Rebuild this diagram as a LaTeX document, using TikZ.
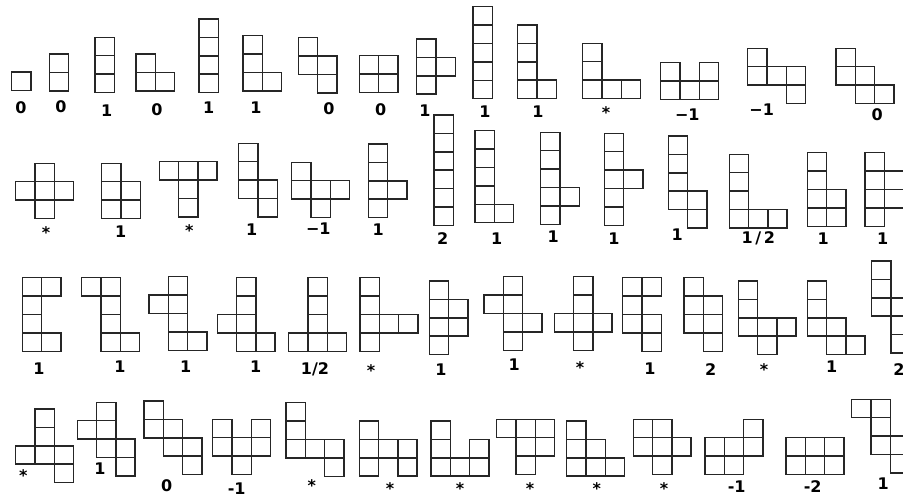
\documentclass[tikz,border=0pt]{standalone}
\usepackage{fontspec}
\setmainfont{DejaVu Sans}
\def\cw{19.3}
\def\ch{18.4}
\newcommand\poly[3]{\foreach \c/\r in {#3}{\draw[cell] ({#1+\c*\cw},{#2+\r*\ch}) rectangle ++(\cw,\ch);}}
\newcommand\st{\raisebox{-5pt}{*}}
\tikzset{
  cell/.style={line width=1.5pt, draw=black!85},
  lab/.style={font=\bfseries\fontsize{16}{16}\selectfont, inner sep=0pt, text=black},
  star/.style={lab, yshift=-1pt}
}
\begin{document}
\begin{tikzpicture}[x=1pt,y=-1pt]
\useasboundingbox (0,0) rectangle (903,497);
% ---------------- row 1
\poly{11.7}{72}{0/0}
\node[lab] (l1) at (21,108) {0};
\poly{49.3}{54}{0/0,0/1}
\node[lab] (l2) at (61,107) {0};
\poly{95}{37.3}{0/0,0/1,0/2}
\node[lab] (l3) at (106.7,111) {1};
\poly{136}{54}{0/0,0/1,1/1}
\node[lab] (l4) at (157,110) {0};
\poly{199}{19}{0/0,0/1,0/2,0/3}
\node[lab] (l5) at (208.7,108) {1};
\poly{243}{35.7}{0/0,0/1,0/2,1/2}
\node[lab] (l6) at (256,108) {1};
\poly{298.3}{37.7}{0/0,0/1,1/1,1/2}
\node[lab] (l7) at (329,109) {0};
\poly{359.3}{55.7}{0/0,1/0,0/1,1/1}
\node[lab] (l8) at (380.7,110) {0};
\poly{416.7}{39}{0/0,0/1,1/1,0/2}
\node[lab] (l9) at (425,110.7) {1};
\poly{473}{6.7}{0/0,0/1,0/2,0/3,0/4}
\node[lab] (l10) at (485,111.7) {1};
\poly{517.7}{25}{0/0,0/1,0/2,0/3,1/3}
\node[lab] (l11) at (538,112) {1};
\poly{582.7}{43.3}{0/0,0/1,0/2,1/2,2/2}
\node[star] (l12) at (606,111.7) {\st};
\poly{660.7}{62.7}{0/0,2/0,0/1,1/1,2/1}
\node[lab] (l13) at (687.3,115) {−1};
\poly{747.7}{48.3}{0/0,0/1,1/1,2/1,2/2}
\node[lab] (l14) at (761.7,110) {−1};
\poly{836}{48.3}{0/0,0/1,1/1,1/2,2/2}
\node[lab] (l15) at (877.3,115) {0};
% ---------------- row 2
\poly{15.7}{163.3}{1/0,0/1,1/1,2/1,1/2}
\node[star] (l16) at (46,231.7) {\st};
\poly{101.7}{163.3}{0/0,0/1,1/1,0/2,1/2}
\node[lab] (l17) at (120.7,231.7) {1};
\poly{159.3}{161.7}{0/0,1/0,2/0,1/1,1/2}
\node[star] (l18) at (189.3,230) {\st};
\poly{238.7}{143.3}{0/0,0/1,0/2,1/2,1/3}
\node[lab] (l19) at (251.7,230) {1};
\poly{291.7}{162.3}{0/0,0/1,1/1,2/1,1/2}
\node[lab] (l20) at (318.3,228.3) {−1};
\poly{368.3}{144}{0/0,0/1,0/2,1/2,0/3}
\node[lab] (l21) at (378.3,230) {1};
\poly{434}{115}{0/0,0/1,0/2,0/3,0/4,0/5}
\node[lab] (l22) at (442.7,238.3) {2};
\poly{475}{130.7}{0/0,0/1,0/2,0/3,0/4,1/4}
\node[lab] (l23) at (496.7,238.3) {1};
\poly{540.7}{132.3}{0/0,0/1,0/2,0/3,0/4,1/3}
\node[lab] (l24) at (553.3,236.7) {1};
\poly{604.3}{133.3}{0/0,0/1,0/2,0/3,0/4,1/2}
\node[lab] (l25) at (614,238.3) {1};
\poly{668.3}{136}{0/0,0/1,0/2,0/3,1/3,1/4}
\node[lab] (l26) at (677.3,235) {1};
\poly{729.3}{154.3}{0/0,0/1,0/2,0/3,1/3,2/3}
\node[lab] (l27) at (758.3,238.3) {1\,/\,2};
\poly{807.3}{152.7}{0/0,0/1,0/2,1/2,0/3,1/3}
\node[lab] (l28) at (823.3,238.3) {1};
\poly{865}{152.7}{0/0,0/1,0/2,0/3,1/1,1/2}
\node[lab] (l29) at (882.7,238.3) {1};
% ---------------- row 3
\poly{22.3}{277.7}{0/0,1/0,0/1,0/2,0/3,1/3}
\node[lab] (l30) at (39,368.3) {1};
\poly{81.7}{277.7}{0/0,1/0,1/1,1/2,1/3,2/3}
\node[lab] (l31) at (120,366.7) {1};
\poly{149}{276.7}{1/0,0/1,1/1,1/2,1/3,2/3}
\node[lab] (l32) at (185.7,366.7) {1};
\poly{217.3}{277.7}{1/0,1/1,0/2,1/2,1/3,2/3}
\node[lab] (l33) at (255.7,366.7) {1};
\poly{288.7}{277.7}{1/0,1/1,1/2,0/3,1/3,2/3}
\node[lab] (l34) at (315,369.3) {1/2};
\poly{360}{277.7}{0/0,0/1,0/2,1/2,2/2,0/3}
\node[star] (l35) at (371,370) {\st};
\poly{429.3}{281}{0/0,0/1,1/1,0/2,1/2,0/3}
\node[lab] (l36) at (441,369.3) {1};
\poly{484}{276.7}{1/0,0/1,1/1,1/2,2/2,1/3}
\node[lab] (l37) at (514.3,365) {1};
\poly{554.3}{276.7}{1/0,1/1,0/2,1/2,2/2,1/3}
\node[star] (l38) at (580,366.7) {\st};
\poly{622.7}{277.7}{0/0,1/0,0/1,0/2,1/2,1/3}
\node[lab] (l39) at (650,368.3) {1};
\poly{684}{277.7}{0/0,0/1,1/1,0/2,1/2,1/3}
\node[lab] (l40) at (710.7,370) {2};
\poly{738.3}{281}{0/0,0/1,0/2,1/2,2/2,1/3}
\node[star] (l41) at (764,368.3) {\st};
\poly{807.3}{281}{0/0,0/1,0/2,1/2,1/3,2/3}
\node[lab] (l42) at (831.7,366.7) {1};
\poly{871.7}{261}{0/0,0/1,0/2,1/2,1/3,1/4}
\node[lab] (l43) at (899,370) {2};
% ---------------- row 4
\poly{15.7}{409}{1/0,1/1,0/2,1/2,2/2,2/3}
\node[star] (l44) at (23.3,474.3) {\st};
\poly{77.3}{402.3}{1/0,0/1,1/1,1/2,2/2,2/3}
\node[lab] (l45) at (100,469) {1};
\poly{144}{401}{0/0,0/1,1/1,1/2,2/2,2/3}
\node[lab] (l46) at (166.7,485.7) {0};
\poly{212.7}{419.3}{0/0,2/0,0/1,1/1,2/1,1/2}
\node[lab] (l47) at (236.7,488.3) {-1};
\poly{286}{402.7}{0/0,0/1,0/2,1/2,2/2,2/3}
\node[star] (l48) at (311.7,485) {\st};
\poly{359.3}{421}{0/0,0/1,1/1,2/1,0/2,2/2}
\node[star] (l49) at (390,487.3) {\st};
\poly{431}{421}{0/0,0/1,2/1,0/2,1/2,2/2}
\node[star] (l50) at (460,487.3) {\st};
\poly{496.7}{419.3}{0/0,1/0,2/0,1/1,2/1,1/2}
\node[star] (l51) at (530,487.3) {\st};
\poly{566.7}{421}{0/0,0/1,1/1,0/2,1/2,2/2}
\node[star] (l52) at (596.7,487.3) {\st};
\poly{633.3}{419.3}{0/0,1/0,0/1,1/1,2/1,1/2}
\node[star] (l53) at (664,487.3) {\st};
\poly{705}{419.3}{2/0,0/1,1/1,2/1,0/2,1/2}
\node[lab] (l54) at (736.7,486.7) {-1};
\poly{786}{437.7}{0/0,1/0,2/0,0/1,1/1,2/1}
\node[lab] (l55) at (812.7,486.7) {-2};
\poly{851.7}{399.3}{0/0,1/0,1/1,1/2,2/2,2/3}
\node[lab] (l56) at (883.3,483.3) {1};
\end{tikzpicture}
\end{document}
